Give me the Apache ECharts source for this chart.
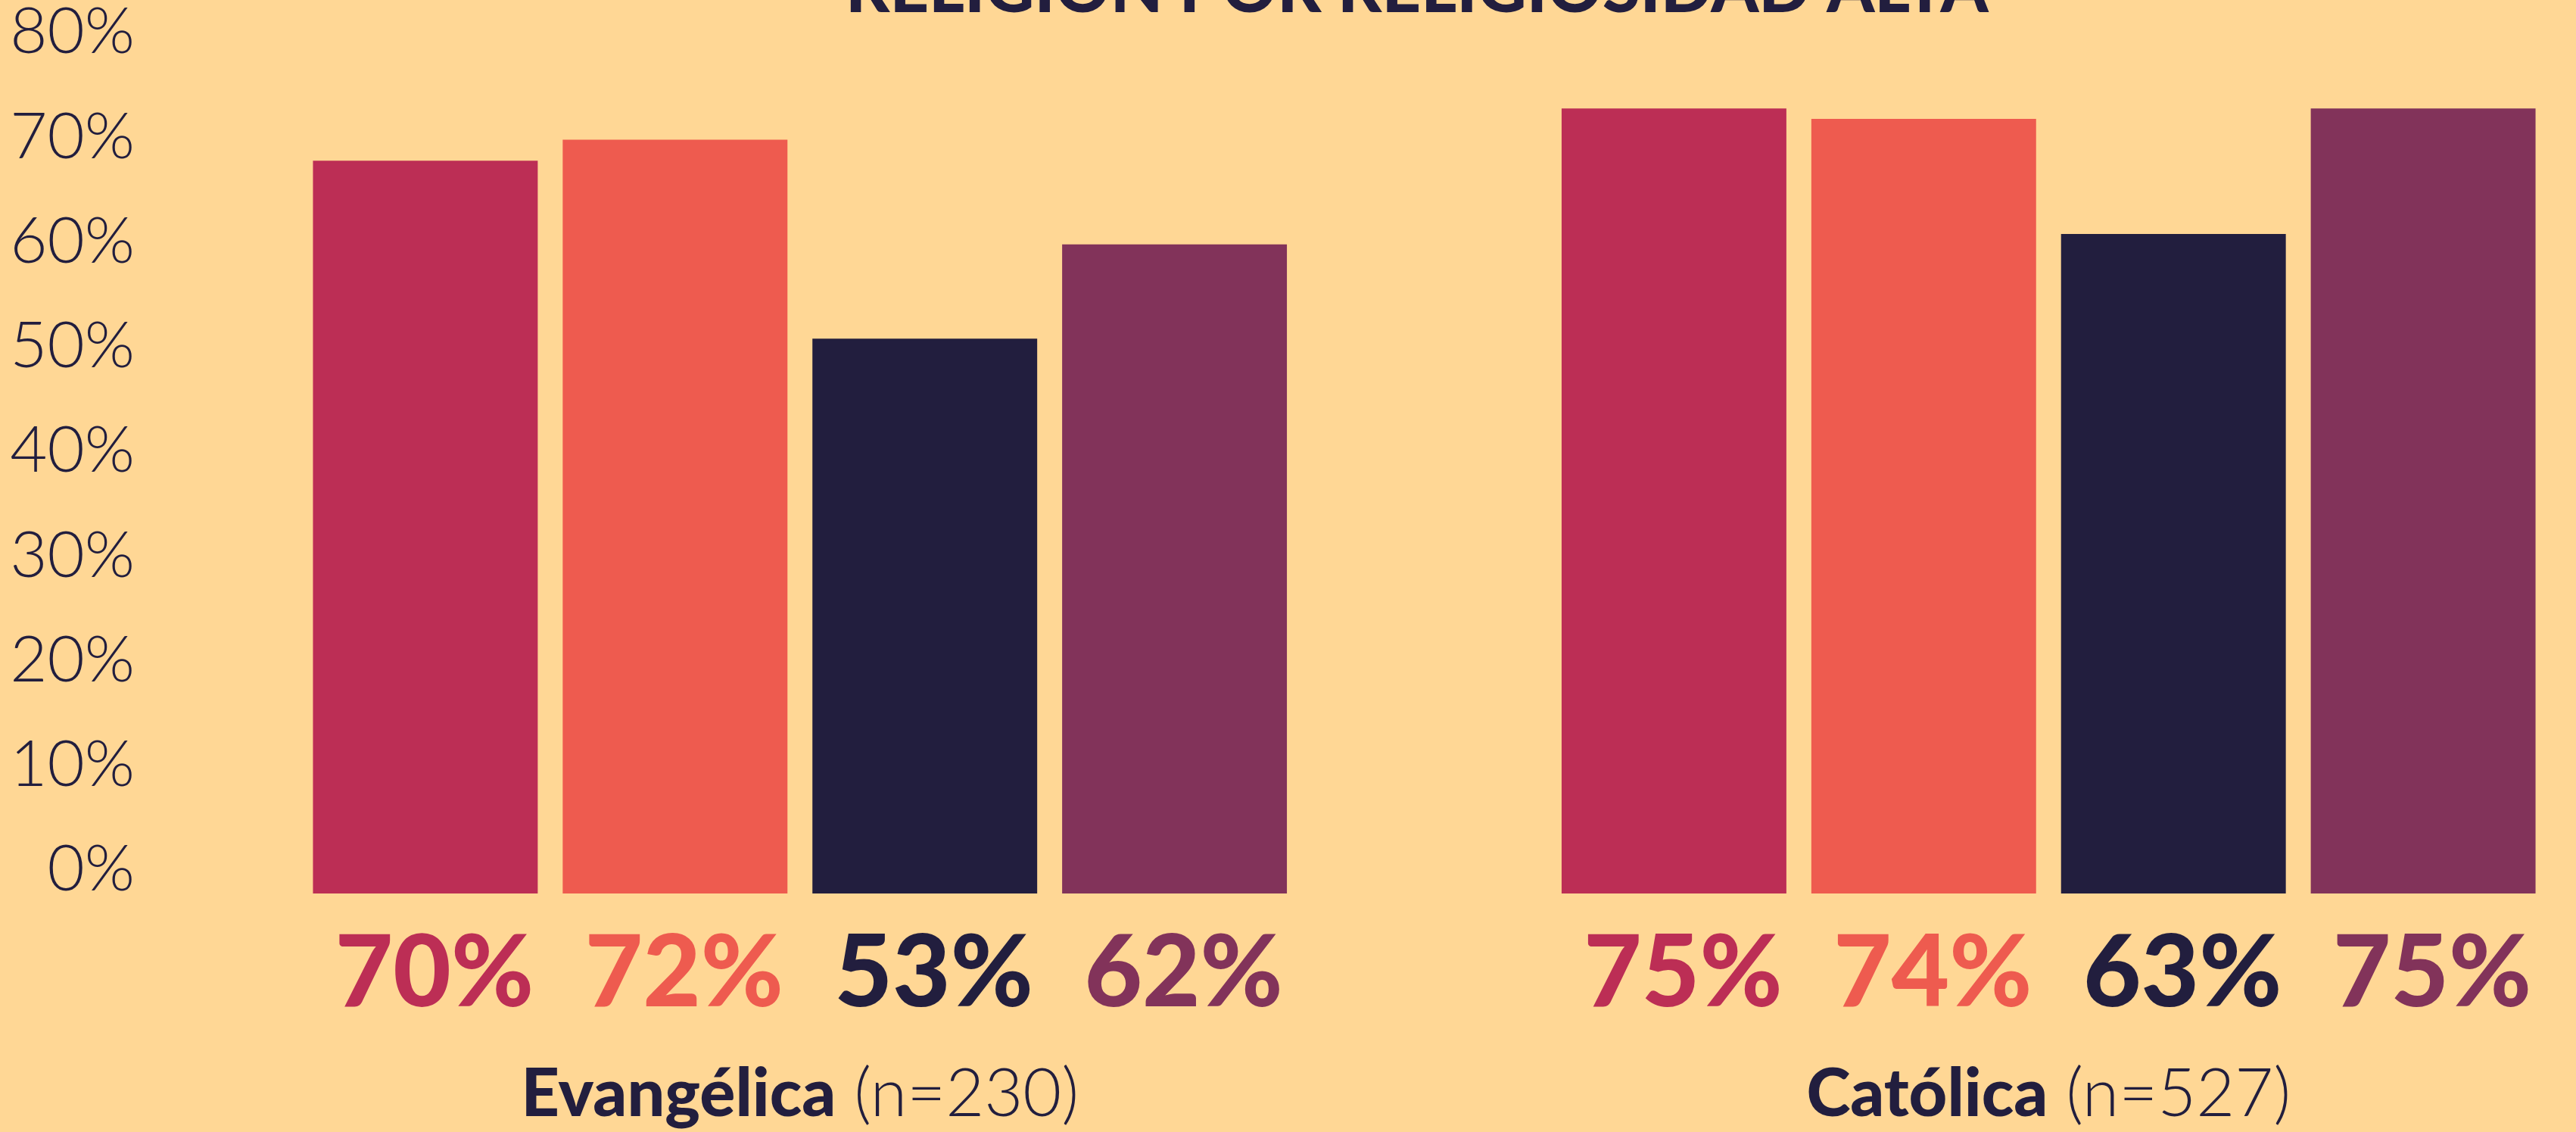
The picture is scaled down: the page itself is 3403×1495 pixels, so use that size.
<!DOCTYPE html>
<html>
<head>
    <meta charset="utf-8">
    <title>Religión por religiosidad alta</title>
    <script src="https://cdn.jsdelivr.net/npm/echarts@6/dist/echarts.min.js"></script>
    <style>
        html, body { margin: 0; padding: 0; background: #FFD795; }
        #main { width: 3403px; height: 1495px; }
    </style>
</head>
<body>
    <div id="main"></div>
    <script type="text/javascript">
        // datos
        var categories = ['Evangélica', 'Católica'];
        var sampleSizes = ['230', '527'];
        var seriesNames = ['Grupo 1', 'Grupo 2', 'Grupo 3', 'Grupo 4'];
        var grupo1 = [70, 75];
        var grupo2 = [72, 74];
        var grupo3 = [53, 63];
        var grupo4 = [62, 75];
        var colors = ['#BC2E55', '#EE5B4F', '#221E3E', '#82335A'];

        var values = [grupo1, grupo2, grupo3, grupo4];
        var myChart = echarts.init(document.getElementById('main'));

        var series = values.map(function (v, i) {
            return {
                name: seriesNames[i],
                type: 'bar',
                data: v,
                barGap: '11.1%',
                barCategoryGap: '22%',
                itemStyle: { color: colors[i] },
                label: {
                    show: true,
                    position: 'bottom',
                    distance: 56,
                    offset: [12, 0],
                    formatter: '{c}%',
                    color: colors[i],
                    fontFamily: 'Lato',
                    fontWeight: 900,
                    fontSize: 132,
                    lineHeight: 100
                }
            };
        });

        myChart.setOption({
            backgroundColor: '#FFD795',
            animation: false,
            title: {
                text: 'RELIGIÓN POR RELIGIOSIDAD ALTA',
                left: 1112,
                top: -58,
                textStyle: {
                    color: '#221E3E',
                    fontFamily: 'Lato',
                    fontWeight: 900,
                    fontSize: 90,
                    lineHeight: 80
                }
            },
            grid: {
                left: 232,
                right: -128,
                top: 74,
                bottom: 315,
                outerBoundsMode: 'none'
            },
            xAxis: {
                type: 'category',
                data: categories,
                axisLine: { show: false },
                axisTick: { show: false },
                axisLabel: {
                    margin: 216,
                    lineHeight: 100,
                    formatter: function (v, idx) {
                        return '{b|' + v + '}{n|(n=' + sampleSizes[idx] + ')}';
                    },
                    rich: {
                        b: {
                            color: '#221E3E',
                            fontFamily: 'Lato',
                            fontWeight: 900,
                            fontSize: 88,
                            lineHeight: 100,
                            padding: [0, 24, 0, 0]
                        },
                        n: {
                            color: '#221E3E',
                            fontFamily: 'Lato',
                            fontWeight: 300,
                            fontSize: 88,
                            lineHeight: 100
                        }
                    }
                }
            },
            yAxis: {
                type: 'value',
                min: 0,
                max: 80,
                interval: 10,
                splitLine: { show: false },
                axisLine: { show: false },
                axisTick: { show: false },
                axisLabel: {
                    formatter: '{value}%',
                    margin: 54,
                    verticalAlign: 'bottom',
                    lineHeight: 62,
                    color: '#221E3E',
                    fontFamily: 'Lato',
                    fontWeight: 300,
                    fontSize: 85
                }
            },
            series: series
        });
    </script>
</body>
</html>
